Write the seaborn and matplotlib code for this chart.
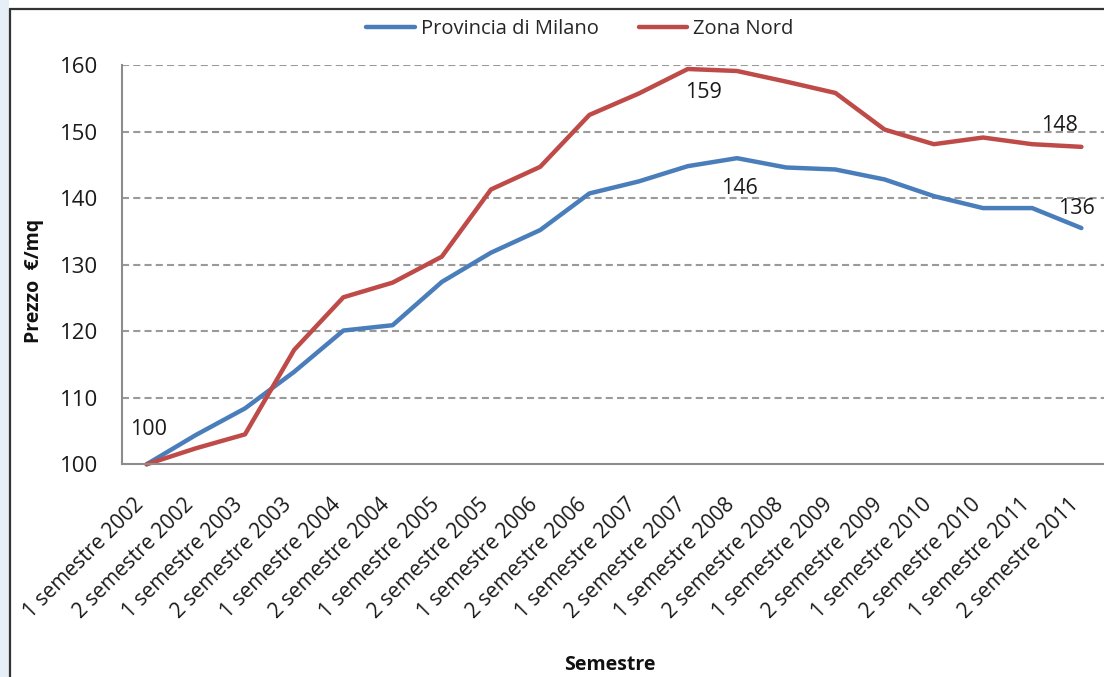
import numpy as np
import pandas as pd
import matplotlib
matplotlib.use("Agg")
import matplotlib.pyplot as plt
import seaborn as sns
from matplotlib.lines import Line2D

semestri = ["1 semestre 2002", "2 semestre 2002", "1 semestre 2003", "2 semestre 2003",
            "1 semestre 2004", "2 semestre 2004", "1 semestre 2005", "2 semestre 2005",
            "1 semestre 2006", "2 semestre 2006", "1 semestre 2007", "2 semestre 2007",
            "1 semestre 2008", "2 semestre 2008", "1 semestre 2009", "2 semestre 2009",
            "1 semestre 2010", "2 semestre 2010", "1 semestre 2011", "2 semestre 2011"]
milano = [100, 104.4, 108.4, 113.9, 120.1, 120.9, 127.4, 131.8, 135.2, 140.7,
          142.5, 144.8, 146.0, 144.6, 144.3, 142.8, 140.3, 138.5, 138.5, 135.5]
nord = [100, 102.4, 104.5, 117.2, 125.1, 127.3, 131.2, 141.3, 144.7, 152.5,
        155.7, 159.4, 159.1, 157.5, 155.8, 150.3, 148.1, 149.1, 148.1, 147.7]
serie = ["Provincia di Milano", "Zona Nord"]
colori = ["#4A7EBB", "#BE4B48"]
yticks = [100, 110, 120, 130, 140, 150, 160]

df = pd.DataFrame({
    "idx": list(range(len(semestri))) * 2,
    "val": milano + nord,
    "serie": [serie[0]] * len(semestri) + [serie[1]] * len(semestri),
})

sns.set_theme(style="white")
plt.rcParams["font.family"] = ["Open Sans", "DejaVu Sans"]

W, H = 1104, 677
fig = plt.figure(figsize=(W / 100, H / 100), dpi=100)
fig.patch.set_facecolor("white")

# faint watermark strip on the left edge
fig.patches.append(plt.Rectangle((0, 0), 9 / W, 1, transform=fig.transFigure,
                                 facecolor="#e6eef7", edgecolor="none", zorder=0))
# chart border (left and top visible)
fig.add_artist(Line2D([10 / W, 10 / W], [0, 1 - 9 / H], transform=fig.transFigure,
                      color="#333333", lw=1.6))
fig.add_artist(Line2D([10 / W, 1], [1 - 9 / H, 1 - 9 / H], transform=fig.transFigure,
                      color="#333333", lw=1.6))

left, right = 122 / W, 1106 / W
bottom, top = 1 - 464.3 / H, 1 - 65 / H
ax = fig.add_axes([left, bottom, right - left, top - bottom])
ax.set_facecolor("white")

sns.lineplot(data=df, x="idx", y="val", hue="serie", palette=colori, ax=ax,
             linewidth=3.2, legend=False, clip_on=False)

ax.set_xlim(-0.5, len(semestri) - 0.5)
ax.set_ylim(100, 160)
ax.set_yticks(yticks)
ax.set_yticklabels([str(v) for v in yticks], fontsize=16, color="#1a1a1a")
ax.set_xticks(np.arange(-0.5, len(semestri), 1))
ax.set_xticklabels([])
ax.tick_params(axis="x", length=7, width=1.2, color="#8c8c8c", direction="out")
ax.tick_params(axis="y", length=9, width=1.2, color="#8c8c8c", direction="out", pad=8)

# category labels, rotated 45 degrees under each category centre
for i, lab in enumerate(semestri):
    ax.annotate(lab, (i, 0), xycoords=("data", "axes fraction"),
                xytext=(-13, -30), textcoords="offset pixels",
                rotation=45, rotation_mode="anchor", ha="right", va="top",
                fontsize=15, color="#1a1a1a", annotation_clip=False)

for v in yticks:
    if v == 100:
        continue
    ax.axhline(v, color="#9a9a9a", lw=1.5, ls=(0, (3.4, 2.0)), zorder=0)

for s in ["top", "right"]:
    ax.spines[s].set_visible(False)
for s in ["left", "bottom"]:
    ax.spines[s].set_color("#8c8c8c")
    ax.spines[s].set_linewidth(1.5)

ax.set_xlabel("")
ax.set_ylabel("")
fig.text(610 / W, 1 - 665 / H, "Semestre", fontsize=14, fontweight="bold",
         color="#111111", ha="center", va="center")
fig.text(34 / W, 1 - 281 / H, "Prezzo  €/mq", fontsize=14, fontweight="bold",
         color="#111111", ha="center", va="center", rotation=90)

# data labels
labels = [
    (0, milano, "100", (2, 35)),
    (11, nord, "159", (16, -24)),
    (12, milano, "146", (2, -30)),
    (18, nord, "148", (27, 19)),
    (19, milano, "136", (-5, 20)),
]
for i, arr, txt, off in labels:
    ax.annotate(txt, (i, arr[i]), xytext=off, textcoords="offset pixels",
                ha="center", va="center", fontsize=15.5, color="#1a1a1a",
                annotation_clip=False)

handles = [Line2D([0], [0], color=c, lw=3.2) for c in colori]
fig.legend(handles, serie, loc="center", bbox_to_anchor=(580 / W, 1 - 29 / H),
           ncol=2, frameon=False, fontsize=14.5, handlelength=2.4,
           handletextpad=0.3, columnspacing=2.0)

fig.savefig("out.png", dpi=100)
